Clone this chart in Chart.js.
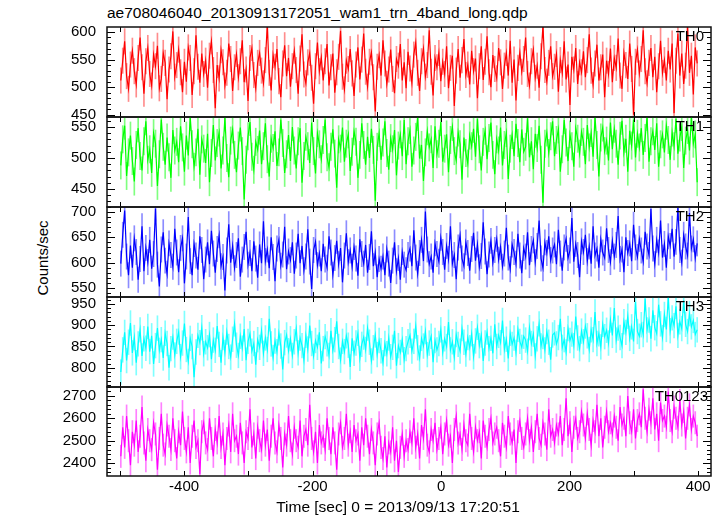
<!DOCTYPE html>
<html>
<head>
<meta charset="utf-8">
<title>ae708046040 wam1 trn 4band</title>
<script src="https://cdn.jsdelivr.net/npm/chart.js@4.4.1/dist/chart.umd.min.js"></script>
<style>
  body { margin: 0; background: #fff; }
  #wrap { position: relative; width: 724px; height: 516px; overflow: hidden;
          font-family: "Liberation Sans", Arial, Helvetica, sans-serif; color: #000; }
  .panel { position: absolute; left: 0; width: 724px; }
  #titulo { position: absolute; left: 107px; top: 4px; font-size: 15.5px; line-height: 18px; white-space: nowrap; }
  #ylabel { position: absolute; left: 42px; top: 258px; font-size: 15px; white-space: nowrap;
            transform: translate(-50%, -50%) rotate(-90deg); }
  #xlabel { position: absolute; left: 398px; top: 507px; font-size: 15.5px; white-space: nowrap;
            transform: translate(-50%, -50%); }
</style>
</head>
<body>
<div id="wrap">
  <div id="titulo">ae708046040_20130913172051_wam1_trn_4band_long.qdp</div>
  <div id="ylabel">Counts/sec</div>
  <div class="panel" id="p0"><canvas id="c0"></canvas></div>
  <div class="panel" id="p1"><canvas id="c1"></canvas></div>
  <div class="panel" id="p2"><canvas id="c2"></canvas></div>
  <div class="panel" id="p3"><canvas id="c3"></canvas></div>
  <div class="panel" id="p4"><canvas id="c4"></canvas></div>
  <div id="xlabel"></div>
</div>
<script>
// ---- datos (bins de 3 s) ----
const tStart = -498.5;   // centro del primer bin
const binWidth = 3;

const th0 = [
  512, 548, 583, 520, 497, 541, 566, 529, 505, 553, 590, 536, 488, 547, 571,
  524, 503, 559, 538, 575, 498, 515, 562, 544, 478, 532, 556, 601, 519, 540,
  568, 527, 491, 546, 510, 572, 553, 486, 529, 594, 537, 508, 561, 524, 548,
  499, 557, 583, 531, 462, 540, 516, 567, 545, 503, 526, 579, 551, 493, 536,
  560, 518, 547, 585, 509, 532, 475, 553, 571, 522, 498, 544, 562, 530, 507,
  549, 613, 526, 494, 558, 537, 569, 511, 482, 543, 576, 520, 553, 501, 538,
  566, 531, 488, 552, 596, 523, 507, 545, 562, 517, 470, 538, 581, 529, 554,
  512, 547, 578, 503, 536, 561, 490, 527, 555, 602, 519, 496, 548, 533, 569,
  525, 484, 541, 572, 514, 550, 597, 528, 501, 546, 563, 518, 456, 537, 558,
  521, 585, 543, 506, 532, 568, 515, 489, 551, 539, 578, 512, 545, 498, 564,
  534, 508, 559, 581, 526, 493, 547, 570, 519, 540, 603, 528, 485, 553, 536,
  562, 511, 546, 524, 574, 498, 535, 557, 466, 530, 569, 517, 549, 587, 522,
  541, 505, 566, 529, 552, 480, 538, 574, 513, 546, 592, 527, 500, 558, 533,
  516, 571, 545, 497, 539, 562, 521, 584, 508, 550, 476, 535, 563, 528, 551,
  590, 524, 503, 547, 568, 517, 539, 499, 556, 612, 531, 510, 544, 574, 520,
  537, 560, 492, 549, 526, 583, 514, 541, 468, 555, 532, 571, 506, 545, 527,
  565, 518, 549, 596, 530, 504, 543, 577, 512, 536, 559, 482, 548, 524, 570,
  509, 553, 535, 588, 521, 497, 562, 540, 515, 579, 533, 450, 546, 568, 525,
  551, 603, 529, 507, 544, 571, 518, 555, 491, 538, 584, 526, 549, 512, 566,
  532, 579, 453, 548, 597, 521, 561, 506, 539, 610, 526, 557, 487, 572, 543
];
const th1 = [
  488, 530, 552, 471, 509, 536, 495, 462, 521, 548, 503, 480, 527, 559, 497,
  514, 476, 540, 523, 455, 506, 562, 518, 489, 533, 501, 468, 545, 512, 526,
  493, 551, 517, 478, 536, 504, 566, 522, 486, 509, 547, 473, 530, 515, 492,
  539, 461, 508, 553, 496, 524, 541, 483, 512, 565, 500, 469, 528, 546, 505,
  477, 520, 549, 511, 433, 497, 535, 558, 502, 481, 526, 513, 544, 490, 519,
  556, 498, 470, 531, 516, 543, 487, 509, 562, 524, 476, 506, 537, 495, 550,
  512, 483, 527, 548, 460, 503, 534, 519, 492, 557, 511, 475, 540, 522, 498,
  529, 562, 501, 485, 518, 546, 507, 452, 530, 515, 549, 494, 523, 538, 479,
  510, 543, 526, 468, 505, 556, 521, 489, 534, 500, 547, 513, 431, 518, 540,
  497, 525, 559, 508, 481, 532, 514, 545, 472, 520, 538, 503, 561, 490, 527,
  545, 486, 512, 534, 566, 499, 521, 463, 509, 543, 517, 530, 484, 551, 506,
  523, 558, 494, 515, 538, 477, 529, 550, 511, 496, 541, 522, 465, 533, 508,
  491, 536, 519, 547, 502, 563, 514, 480, 526, 544, 498, 532, 557, 505, 474,
  530, 512, 549, 488, 521, 540, 466, 515, 537, 503, 555, 524, 493, 546, 510,
  518, 564, 501, 527, 482, 539, 516, 552, 497, 428, 523, 541, 508, 535, 559,
  503, 529, 546, 478, 514, 561, 525, 495, 538, 519, 486, 548, 531, 507, 542,
  526, 490, 553, 517, 540, 502, 566, 521, 470, 533, 549, 511, 528, 496, 557,
  514, 547, 523, 489, 536, 560, 509, 531, 478, 544, 520, 562, 501, 539, 517,
  548, 505, 532, 566, 494, 527, 543, 513, 556, 486, 522, 538, 509, 552, 529,
  497, 541, 519, 563, 507, 533, 550, 484, 528, 545, 512, 566, 523, 538, 461
];
const th2 = [
  598, 655, 703, 612, 575, 634, 590, 648, 621, 566, 607, 672, 583, 629, 601,
  645, 588, 617, 707, 596, 553, 626, 660, 604, 578, 638, 615, 592, 667, 620,
  581, 629, 648, 559, 612, 690, 603, 575, 637, 614, 586, 652, 625, 567, 606,
  640, 597, 663, 618, 580, 627, 654, 593, 611, 545, 624, 676, 600, 633, 589,
  615, 648, 572, 606, 631, 661, 596, 619, 583, 642, 608, 570, 636, 599, 682,
  603, 626, 589, 650, 611, 563, 628, 645, 594, 616, 671, 587, 622, 605, 640,
  578, 614, 657, 599, 633, 585, 612, 666, 602, 548, 625, 641, 595, 618, 583,
  637, 606, 590, 652, 620, 576, 609, 643, 597, 629, 561, 614, 658, 601, 624,
  592, 631, 608, 574, 646, 617, 598, 635, 580, 611, 662, 593, 620, 571, 607,
  588, 612, 575, 626, 598, 560, 604, 640, 583, 609, 566, 621, 596, 585, 615,
  628, 593, 664, 610, 578, 619, 645, 603, 701, 626, 597, 612, 580, 638, 617,
  602, 649, 621, 586, 633, 607, 672, 598, 615, 567, 630, 654, 608, 593, 640,
  619, 584, 627, 659, 604, 636, 591, 613, 680, 622, 577, 616, 643, 600, 625,
  647, 606, 631, 592, 618, 669, 610, 587, 636, 621, 598, 657, 614, 579, 629,
  612, 660, 595, 627, 644, 601, 633, 683, 608, 589, 640, 619, 652, 605, 624,
  636, 597, 665, 618, 584, 630, 647, 609, 624, 688, 602, 637, 615, 571, 642,
  621, 655, 603, 632, 598, 672, 614, 628, 590, 646, 620, 609, 668, 625, 601,
  643, 612, 635, 692, 607, 626, 581, 650, 619, 638, 603, 675, 630, 611, 647,
  624, 602, 661, 632, 615, 706, 628, 597, 645, 620, 683, 610, 637, 590, 652,
  633, 667, 612, 641, 709, 625, 600, 655, 632, 614, 698, 628, 646, 609, 638
];
const th3 = [
  790, 842, 883, 817, 860, 905, 835, 871, 812, 856, 889, 828, 868, 846, 897,
  838, 875, 809, 852, 893, 841, 866, 823, 881, 857, 800, 845, 872, 830, 862,
  884, 826, 858, 904, 843, 815, 869, 850, 778, 837, 876, 859, 894, 833, 861,
  847, 878, 820, 865, 841, 898, 855, 812, 871, 836, 884, 850, 825, 867, 903,
  853, 829, 874, 846, 891, 818, 862, 880, 839, 857, 807, 866, 848, 887, 834,
  870, 843, 915, 856, 824, 863, 838, 882, 851, 796, 859, 877, 840, 868, 829,
  861, 892, 835, 870, 852, 818, 876, 844, 899, 857, 827, 864, 848, 883, 810,
  845, 873, 856, 829, 887, 841, 866, 909, 850, 818, 862, 838, 875, 853, 802,
  869, 834, 858, 881, 822, 855, 872, 843, 893, 860, 816, 847, 877, 831, 864,
  840, 812, 857, 833, 870, 826, 848, 887, 805, 852, 836, 866, 819, 845, 861,
  876, 839, 862, 898, 847, 823, 869, 851, 885, 831, 858, 874, 813, 864, 842,
  857, 889, 836, 868, 850, 907, 842, 861, 825, 878, 855, 839, 892, 860, 832,
  871, 847, 880, 826, 863, 895, 852, 877, 816, 858, 884, 845, 869, 834, 902,
  850, 876, 859, 911, 843, 867, 822, 881, 855, 870, 836, 890, 862, 848, 874,
  865, 839, 894, 857, 879, 828, 868, 903, 851, 873, 842, 885, 860, 819, 877,
  882, 856, 871, 915, 848, 866, 837, 892, 864, 879, 852, 920, 870, 845, 886,
  861, 898, 875, 843, 889, 866, 931, 857, 880, 849, 902, 873, 888, 858, 912,
  876, 940, 865, 893, 871, 852, 908, 883, 921, 869, 896, 862, 955, 885, 874,
  901, 878, 962, 889, 912, 868, 935, 894, 880, 948, 903, 871, 925, 890, 966,
  887, 917, 899, 944, 876, 908, 892, 958, 902, 885, 927, 896, 911, 878, 889
];
const th0123 = [
  2430, 2560, 2470, 2610, 2500, 2390, 2540, 2480, 2590, 2450, 2520, 2650, 2490, 2410, 2550,
  2500, 2460, 2580, 2530, 2370, 2510, 2620, 2480, 2440, 2570, 2520, 2460, 2600, 2500, 2420,
  2540, 2480, 2630, 2510, 2450, 2560, 2400, 2520, 2590, 2470, 2500, 2350, 2540, 2580, 2490,
  2460, 2600, 2510, 2430, 2550, 2490, 2610, 2470, 2530, 2390, 2510, 2570, 2450, 2620, 2500,
  2520, 2440, 2580, 2490, 2400, 2540, 2510, 2640, 2470, 2530, 2420, 2560, 2500, 2460, 2590,
  2480, 2550, 2410, 2520, 2600, 2490, 2450, 2570, 2510, 2380, 2530, 2480, 2610, 2500, 2440,
  2560, 2500, 2470, 2590, 2430, 2520, 2550, 2480, 2660, 2510, 2450, 2540, 2400, 2570, 2490,
  2520, 2460, 2600, 2510, 2440, 2560, 2490, 2370, 2530, 2580, 2470, 2510, 2620, 2480, 2540,
  2450, 2570, 2500, 2530, 2410, 2560, 2480, 2600, 2520, 2440, 2550, 2490, 2390, 2530, 2580,
  2470, 2420, 2520, 2380, 2490, 2450, 2560, 2410, 2500, 2360, 2470, 2530, 2430, 2500, 2460,
  2540, 2490, 2600, 2470, 2530, 2420, 2570, 2510, 2640, 2480, 2450, 2550, 2500, 2580, 2460,
  2510, 2560, 2440, 2530, 2590, 2480, 2520, 2400, 2550, 2610, 2490, 2530, 2460, 2570, 2500,
  2480, 2620, 2510, 2450, 2560, 2500, 2540, 2420, 2590, 2520, 2470, 2550, 2600, 2490, 2530,
  2560, 2500, 2430, 2580, 2520, 2470, 2610, 2530, 2490, 2550, 2400, 2540, 2590, 2510, 2470,
  2530, 2600, 2500, 2560, 2450, 2540, 2620, 2510, 2480, 2580, 2530, 2460, 2640, 2520, 2550,
  2490, 2570, 2530, 2610, 2480, 2550, 2690, 2520, 2580, 2450, 2560, 2600, 2510, 2540, 2630,
  2570, 2510, 2620, 2550, 2480, 2590, 2540, 2660, 2520, 2600, 2470, 2560, 2630, 2540, 2580,
  2530, 2610, 2560, 2500, 2650, 2570, 2600, 2520, 2700, 2580, 2540, 2640, 2510, 2590, 2620,
  2560, 2730, 2600, 2540, 2640, 2580, 2690, 2550, 2620, 2500, 2670, 2590, 2610, 2560, 2720,
  2590, 2540, 2650, 2600, 2560, 2680, 2570, 2630, 2510, 2600, 2660, 2550, 2610, 2580, 2520
];

// errores (semi-ancho de la barra clara) por panel
const errores = [23, 22, 25, 29, 50];

const nombres = ['TH0', 'TH1', 'TH2', 'TH3', 'TH0123'];
const series = [th0, th1, th2, th3, th0123];

// ejes
const yMin = [446, 421, 532, 755, 2342];
const yMax = [609, 566, 710, 966, 2740];
const yMajor = [
  [450, 500, 550, 600],
  [450, 500, 550],
  [550, 600, 650, 700],
  [800, 850, 900, 950],
  [2400, 2500, 2600, 2700]
];
const yMinorStep = [10, 10, 10, 10, 20];
const xMin = -520, xMax = 420;
const xTickLabels = [-400, -200, 0, 200, 400];
const xTickMarks = [-500, -400, -300, -200, -100, 0, 100, 200, 300, 400];
const xTitle = 'Time [sec] 0 = 2013/09/13 17:20:51';

// ---- estilos ----
const colores = ['#ff0000', '#00ff00', '#0000ff', '#00ffff', '#ff00ff'];
const coloresClaros = ['rgba(255,0,0,0.45)', 'rgba(0,255,0,0.5)', 'rgba(0,0,255,0.45)', 'rgba(0,255,255,0.5)', 'rgba(255,0,255,0.5)'];
const panelTop = [27, 117, 207, 297, 387];
const panelBottom = [117, 207, 297, 387, 476];
const extra = 10;        // margen de canvas para que no se corten las etiquetas
const ejeXAlto = 40;
const labelRight = [704, 704, 704, 704, 708];

Chart.defaults.font.family = '"Liberation Sans", Arial, Helvetica, sans-serif';
Chart.defaults.color = '#000';

document.getElementById('xlabel').textContent = xTitle;

//Plugin para el marco, ticks hacia dentro y nombre del panel
const marcoPlugin = {
  id: 'marco',
  afterDatasetsDraw(chart, args, opts) {
    const ctx = chart.ctx;
    const a = chart.chartArea;
    const sx = chart.scales.x, sy = chart.scales.y;
    ctx.save();
    ctx.strokeStyle = '#000';
    ctx.lineWidth = 1;
    // ticks eje x (arriba y abajo)
    xTickMarks.forEach(t => {
      const px = Math.round(sx.getPixelForValue(t)) + 0.5;
      ctx.beginPath();
      ctx.moveTo(px, a.top); ctx.lineTo(px, a.top + 5);
      ctx.moveTo(px, a.bottom); ctx.lineTo(px, a.bottom - 5);
      ctx.stroke();
    });
    // ticks eje y (izq y der)
    const paso = opts.minor;
    for (let v = Math.ceil(sy.min / paso) * paso; v <= sy.max; v += paso) {
      const py = Math.round(sy.getPixelForValue(v)) + 0.5;
      const largo = opts.majors.includes(v) ? 8 : 4;
      ctx.beginPath();
      ctx.moveTo(a.left, py); ctx.lineTo(a.left + largo, py);
      ctx.moveTo(a.right, py); ctx.lineTo(a.right - largo, py);
      ctx.stroke();
    }
    // marco
    ctx.lineWidth = 1.5;
    ctx.strokeStyle = '#111';
    ctx.strokeRect(a.left, a.top, a.right - a.left, a.bottom - a.top);
    // nombre
    ctx.fillStyle = '#000';
    ctx.font = '15px "Liberation Sans", Arial, sans-serif';
    ctx.textAlign = 'right';
    ctx.textBaseline = 'top';
    ctx.fillText(opts.nombre, opts.labelRight, a.top + 2);
    ctx.restore();
  }
};

series.forEach((datos, k) => {
  const ultimo = k === series.length - 1;
  const div = document.getElementById('p' + k);
  const top = panelTop[k] - extra;
  const alto = panelBottom[k] - panelTop[k] + extra + (ultimo ? ejeXAlto : extra);
  div.style.top = top + 'px';
  div.style.height = alto + 'px';

  const tiempos = datos.map((v, i) => tStart + i * binWidth);

  new Chart(document.getElementById('c' + k), {
    type: 'line',
    data: {
      datasets: [{
        type: 'line',
        data: datos.map((v, i) => ({ x: tiempos[i], y: v })),
        borderColor: colores[k],
        borderWidth: 1.2,
        pointRadius: 0,
        tension: 0,
        order: 0
      }, {
        type: 'bar',
        data: datos.map((v, i) => ({ x: tiempos[i], y: [v - errores[k], v + errores[k]] })),
        backgroundColor: coloresClaros[k],
        borderWidth: 0,
        barThickness: 1,
        order: 1
      }]
    },
    options: {
      responsive: true,
      maintainAspectRatio: false,
      animation: false,
      events: [],
      layout: { padding: { left: 0, right: 13, top: extra, bottom: ultimo ? 0 : extra } },
      plugins: {
        legend: { display: false },
        tooltip: { enabled: false },
        marco: { nombre: nombres[k], majors: yMajor[k], minor: yMinorStep[k], labelRight: labelRight[k] }
      },
      scales: {
        x: {
          type: 'linear',
          min: xMin,
          max: xMax,
          offset: false,
          display: ultimo,
          grid: { display: false, drawTicks: false },
          border: { display: false },
          ticks: { font: { size: 15 }, color: '#000', padding: 2, maxRotation: 0, autoSkip: false,
                   callback: v => String(v) },
          title: { display: false },
          afterBuildTicks: s => { s.ticks = xTickLabels.map(v => ({ value: v })); },
          afterFit: s => {
            if (ultimo) s.height = ejeXAlto;
            s.paddingLeft = 0; s.paddingRight = 0;
          }
        },
        y: {
          type: 'linear',
          min: yMin[k],
          max: yMax[k],
          grid: { display: false, drawTicks: false },
          border: { display: false },
          ticks: { font: { size: 15 }, color: '#000', padding: 11, autoSkip: false,
                   callback: v => String(v) },
          afterBuildTicks: s => { s.ticks = yMajor[k].map(v => ({ value: v })); },
          afterFit: s => { s.width = 107; s.paddingTop = 0; s.paddingBottom = 0; }
        }
      }
    },
    plugins: [marcoPlugin]
  });
});
</script>
</body>
</html>
